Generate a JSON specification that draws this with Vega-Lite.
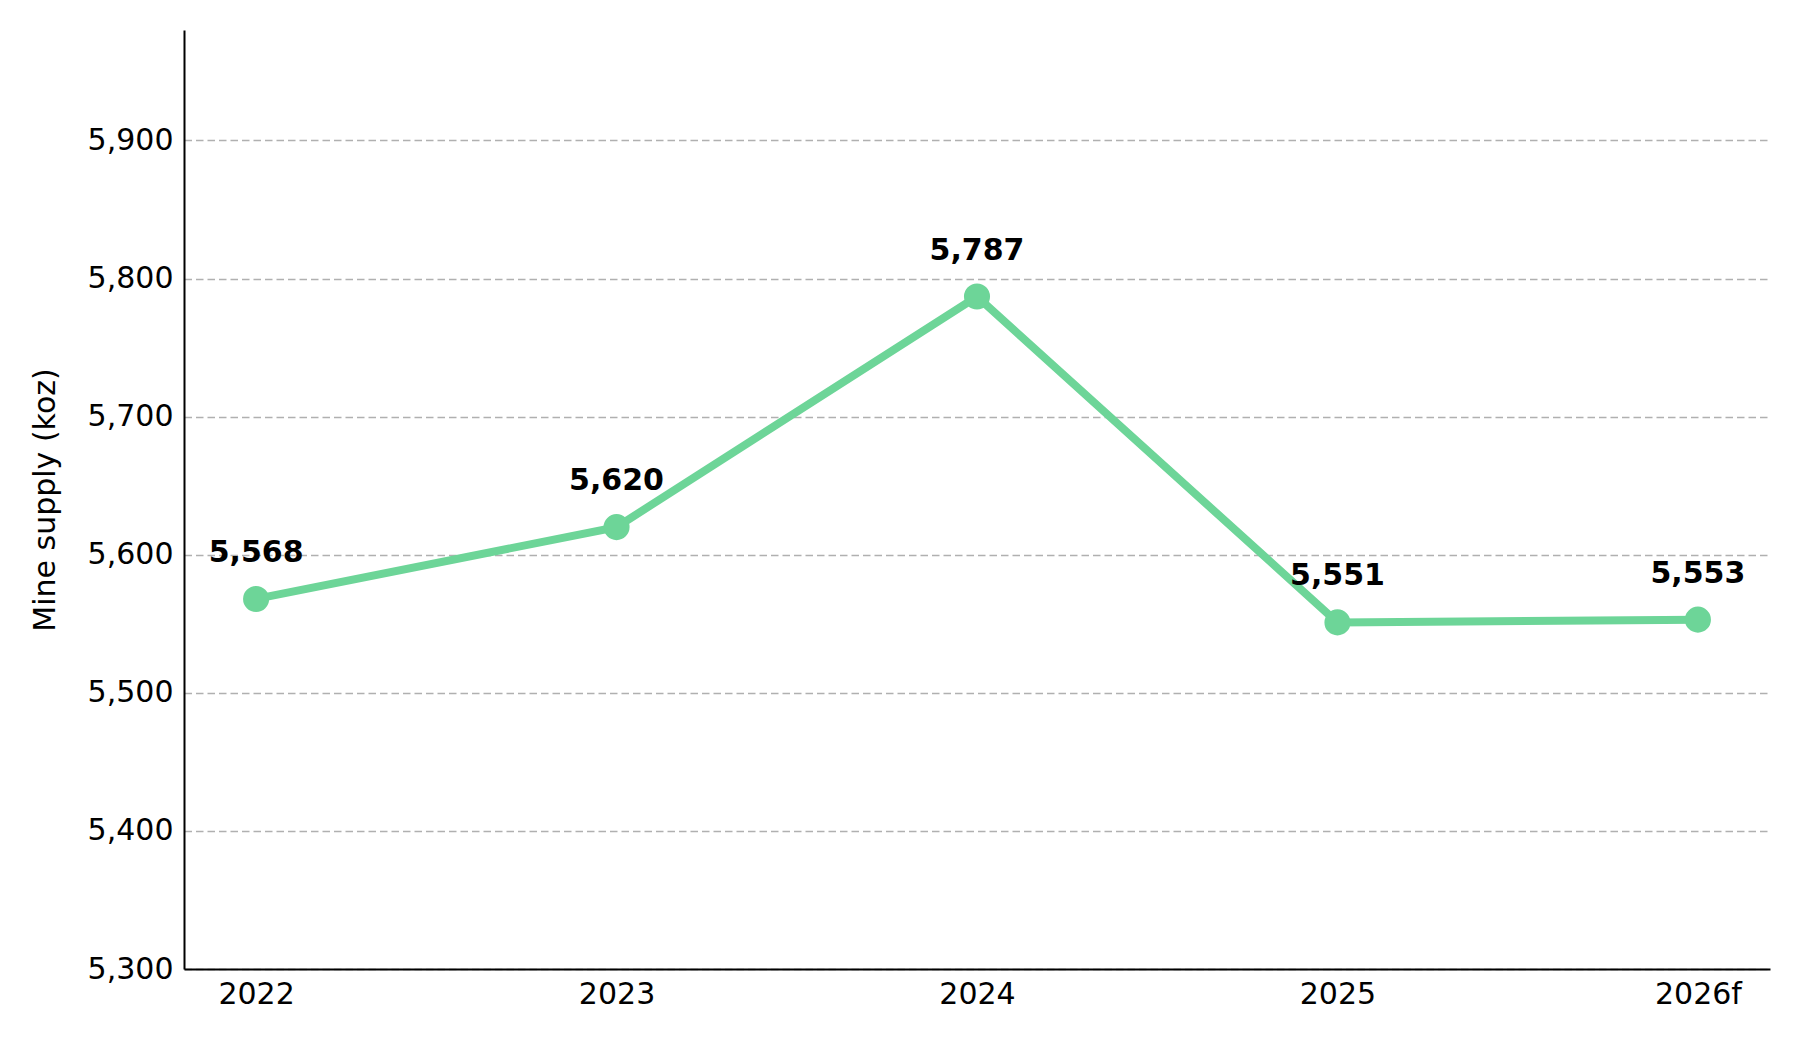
{
  "$schema": "https://vega.github.io/schema/vega-lite/v6.json",
  "autosize": {"type": "none"},
  "width": 1586,
  "height": 939,
  "padding": {"left": 184, "top": 30, "right": 30, "bottom": 71},
  "background": "white",
  "config": {
    "view": {"stroke": null},
    "font": "DejaVu Sans"
  },
  "data": {
    "values": [
      {"year": "2022", "supply": 5568},
      {"year": "2023", "supply": 5620},
      {"year": "2024", "supply": 5787},
      {"year": "2025", "supply": 5551},
      {"year": "2026f", "supply": 5553}
    ]
  },
  "encoding": {
    "x": {
      "field": "year",
      "type": "ordinal",
      "scale": {"type": "point", "padding": 0.2},
      "axis": {
        "title": null,
        "labelAngle": 0,
        "labelFont": "DejaVu Sans",
        "labelFontSize": 30,
        "labelColor": "black",
        "labelPadding": 10,
        "ticks": false,
        "domainColor": "black",
        "domainWidth": 2,
        "grid": false
      }
    },
    "y": {
      "field": "supply",
      "type": "quantitative",
      "scale": {"domain": [5300, 5980], "nice": false, "zero": false},
      "axis": {
        "title": "Mine supply (koz)",
        "titleFont": "DejaVu Sans",
        "titleFontSize": 30,
        "titleFontWeight": "normal",
        "titleColor": "black",
        "titlePadding": 27,
        "values": [5300, 5400, 5500, 5600, 5700, 5800, 5900],
        "format": ",d",
        "labelFont": "DejaVu Sans",
        "labelFontSize": 30,
        "labelColor": "black",
        "labelPadding": 11,
        "ticks": false,
        "domainColor": "black",
        "domainWidth": 2,
        "grid": true,
        "gridColor": "#b0b0b0",
        "gridWidth": 1.7,
        "gridDash": [7.5, 4]
      }
    }
  },
  "layer": [
    {
      "mark": {"type": "line", "color": "#6dd598", "strokeWidth": 8},
      "encoding": {}
    },
    {
      "mark": {"type": "point", "filled": true, "opacity": 1, "color": "#6dd598", "size": 680},
      "encoding": {}
    },
    {
      "mark": {"type": "text", "font": "DejaVu Sans", "fontSize": 30, "fontWeight": "bold", "color": "black", "baseline": "alphabetic", "dy": -37},
      "encoding": {
        "text": {"field": "supply", "type": "quantitative", "format": ","}
      }
    }
  ]
}
